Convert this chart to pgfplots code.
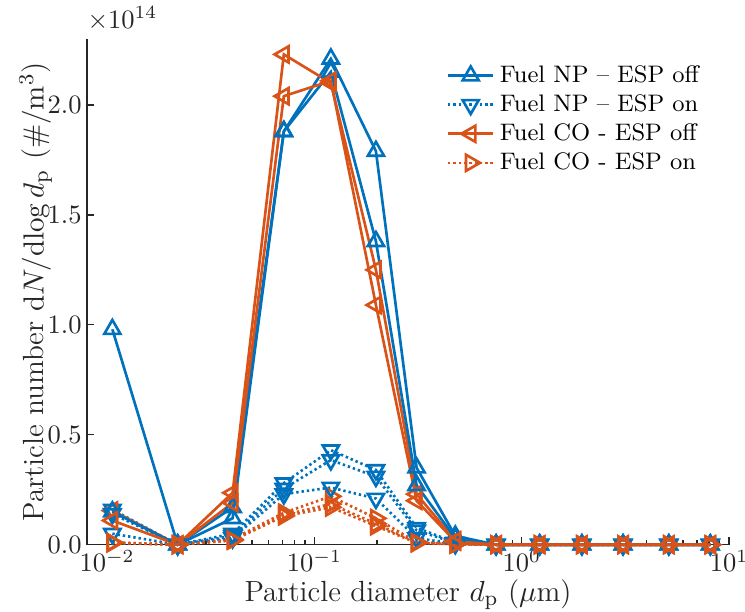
\documentclass[border=0pt]{standalone}
\usepackage{pgfplots}
\pgfplotsset{compat=1.18}
\definecolor{mblue}{rgb}{0,0.447,0.741}
\definecolor{morange}{rgb}{0.85,0.325,0.098}
\definecolor{axgray}{gray}{0.15}

\pgfplotsset{
  offline/.style={line width=1pt, mark size=3.5pt},
  online/.style={line width=1pt, dash pattern=on 0.9pt off 1.1pt, mark size=3.5pt},
}

\begin{document}
\begin{tikzpicture}
\begin{axis}[scale only axis, width=242pt, height=190.6pt,
  xmode=log, xmin=0.008, xmax=10,
  ymin=0, ymax=2.3,
  xtick={0.01,0.1,1,10},
  ytick={0,0.5,1,1.5,2},
  yticklabel style={xshift=1.5pt, /pgf/number format/fixed, /pgf/number format/fixed zerofill, /pgf/number format/precision=1},
  xticklabel style={yshift=1.5pt},
  axis x line*=bottom, axis y line*=left,
  axis line style={axgray,line width=0.5pt},
  tick style={axgray,line width=0.5pt},
  tick align=inside,
  major tick length=2.8pt, minor tick length=1.8pt,
  tick label style={font=\fontsize{10}{12}\selectfont, text=axgray},
  label style={font=\fontsize{11}{13}\selectfont, text=axgray},
  xlabel={Particle diameter $d_\mathrm{p}$ ($\mu$m)},
  ylabel={Particle number $\mathrm{d}N/\mathrm{dlog}\,d_\mathrm{p}$ ($\#/\mathrm{m}^3$)},
  xlabel shift=-4pt, ylabel shift=-8.5pt,
  legend style={font=\fontsize{9}{11}\selectfont, at={(0.547,0.97)}, anchor=north west,
    draw=none, fill=none, row sep=-0.9pt},
  legend cell align=left,
  clip=false]

% Fuel NP - ESP off
\addplot[offline, mblue, mark=triangle, mark options={solid,line width=1pt}] coordinates {
 (0.0106,0.98) (0.0219,0) (0.0403,0.12) (0.0712,1.88) (0.120,2.21) (0.198,1.79)
 (0.311,0.35) (0.478,0.04) (0.752,0) (1.22,0) (1.95,0) (3.08,0) (5.12,0) (8.12,0)};
\addlegendentry{Fuel NP -- ESP off}
% Fuel NP - ESP on
\addplot[online, mblue, mark=triangle, mark options={solid,line width=1pt,rotate=180}] coordinates {
 (0.0106,0.16) (0.0219,0) (0.0403,0.05) (0.0712,0.28) (0.120,0.43) (0.198,0.34)
 (0.311,0.077) (0.478,0.01) (0.752,0) (1.22,0) (1.95,0) (3.08,0) (5.12,0) (8.12,0)};
\addlegendentry{Fuel NP -- ESP on}
% Fuel CO - ESP off
\addplot[offline, morange, mark=triangle, mark options={solid,line width=1pt,rotate=90}] coordinates {
 (0.0106,0.155) (0.0219,0) (0.0403,0.236) (0.0712,2.23) (0.120,2.10) (0.198,1.25)
 (0.311,0.23) (0.478,0.02) (0.752,0) (1.22,0) (1.95,0) (3.08,0) (5.12,0) (8.12,0)};
\addlegendentry{Fuel CO - ESP off}
% Fuel CO - ESP on
\addplot[online, morange, mark=triangle, mark options={solid,line width=1pt,rotate=-90}] coordinates {
 (0.0106,0.01) (0.0219,0) (0.0403,0.025) (0.0712,0.145) (0.120,0.22) (0.198,0.12)
 (0.311,0.012) (0.478,0.003) (0.752,0) (1.22,0) (1.95,0) (3.08,0) (5.12,0) (8.12,0)};
\addlegendentry{Fuel CO - ESP on}

% further runs
\addplot[offline, mblue, mark=triangle, mark options={solid,line width=1pt}, forget plot] coordinates {
 (0.0106,0.15) (0.0219,0) (0.0403,0.17) (0.0712,1.88) (0.120,2.15) (0.198,1.38)
 (0.311,0.27) (0.478,0.03) (0.752,0) (1.22,0) (1.95,0) (3.08,0) (5.12,0) (8.12,0)};
\addplot[online, mblue, mark=triangle, mark options={solid,line width=1pt,rotate=180}, forget plot] coordinates {
 (0.0106,0.14) (0.0219,0) (0.0403,0.04) (0.0712,0.255) (0.120,0.385) (0.198,0.31)
 (0.311,0.065) (0.478,0.008) (0.752,0) (1.22,0) (1.95,0) (3.08,0) (5.12,0) (8.12,0)};
\addplot[online, mblue, mark=triangle, mark options={solid,line width=1pt,rotate=180}, forget plot] coordinates {
 (0.0106,0.05) (0.0219,0) (0.0403,0.03) (0.0712,0.23) (0.120,0.26) (0.198,0.21)
 (0.311,0.03) (0.478,0.004) (0.752,0) (1.22,0) (1.95,0) (3.08,0) (5.12,0) (8.12,0)};
\addplot[offline, morange, mark=triangle, mark options={solid,line width=1pt,rotate=90}, forget plot] coordinates {
 (0.0106,0.11) (0.0219,0) (0.0403,0.19) (0.0712,2.04) (0.120,2.11) (0.198,1.09)
 (0.311,0.20) (0.478,0.015) (0.752,0) (1.22,0) (1.95,0) (3.08,0) (5.12,0) (8.12,0)};
\addplot[online, morange, mark=triangle, mark options={solid,line width=1pt,rotate=-90}, forget plot] coordinates {
 (0.0106,0.01) (0.0219,0) (0.0403,0.02) (0.0712,0.135) (0.120,0.185) (0.198,0.095)
 (0.311,0.01) (0.478,0.002) (0.752,0) (1.22,0) (1.95,0) (3.08,0) (5.12,0) (8.12,0)};
\addplot[online, morange, mark=triangle, mark options={solid,line width=1pt,rotate=-90}, forget plot] coordinates {
 (0.0106,0.008) (0.0219,0) (0.0403,0.02) (0.0712,0.13) (0.120,0.17) (0.198,0.085)
 (0.311,0.008) (0.478,0.002) (0.752,0) (1.22,0) (1.95,0) (3.08,0) (5.12,0) (8.12,0)};

\node[anchor=south west, inner sep=0pt, text=axgray, font=\fontsize{10}{12}\selectfont]
  at (rel axis cs:0,1) [yshift=3pt] {$\times 10^{14}$};
\coordinate (SW) at (rel axis cs:0,0);
\coordinate (NE) at (rel axis cs:1,1);
\end{axis}
\pgfresetboundingbox
\path ([xshift=-32.8pt,yshift=-25.3pt]SW) rectangle ([xshift=6pt,yshift=14.7pt]NE);
\end{tikzpicture}
\end{document}
